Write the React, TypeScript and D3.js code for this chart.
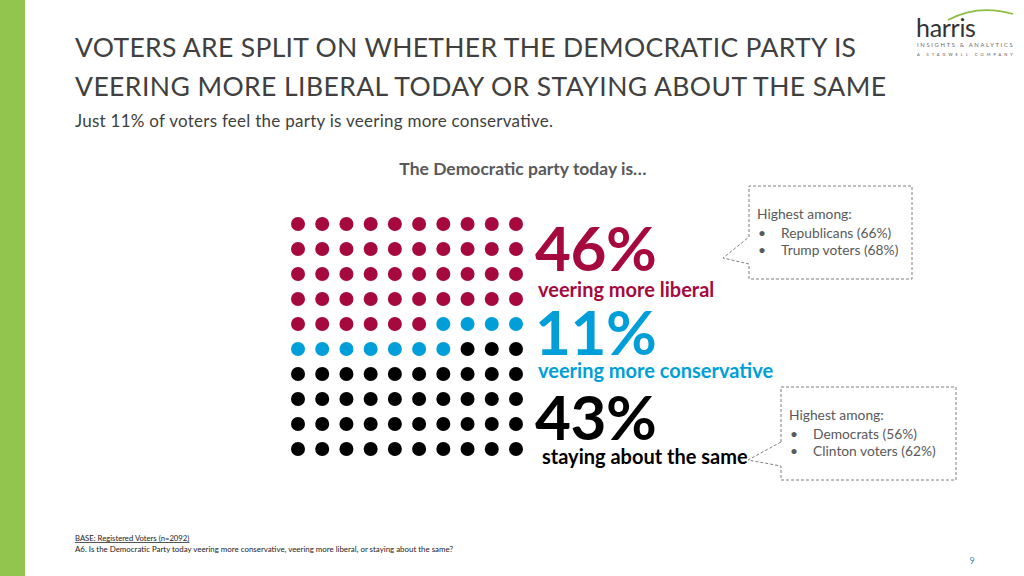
import React from 'react';
import * as d3 from 'd3';

// share of voters per answer, in the order the dots are filled
const categories = ['veering more liberal', 'veering more conservative', 'staying about the same'];
const shares = [46, 11, 43];
const colors = ['#A6093D', '#009FDA', '#000000'];
const gridCols = d3.range(10);
const gridRows = d3.range(10);

const calloutA = ['Republicans (66%)', 'Trump voters (68%)'];
const calloutB = ['Democrats (56%)', 'Clinton voters (62%)'];

const FONT = 'Lato, "Open Sans", sans-serif';

const App: React.FC = () => {
  const x = d3.scalePoint<number>().domain(gridCols).range([298, 516]);
  const y = d3.scalePoint<number>().domain(gridRows).range([224, 449]);

  // expand shares into a per-dot category index
  const dotCat: number[] = [];
  shares.forEach((s, i) => {
    for (let k = 0; k < s; k++) dotCat.push(i);
  });

  const dots = dotCat.map((c, i) => ({
    cx: x(i % 10)!,
    cy: y(Math.floor(i / 10))!,
    fill: colors[c],
  }));

  const labels = [
    { pctY: 271, labelY: 297, labelX: 538 },
    { pctY: 355, labelY: 378, labelX: 538 },
    { pctY: 440, labelY: 464, labelX: 542 },
  ];

  const callout = (
    bx: number, by: number, bw: number, bh: number,
    tip: [number, number], y1: number, y2: number,
    items: string[]
  ) => (
    <g>
      <path
        d={`M${bx},${y1} L${bx},${by} L${bx + bw},${by} L${bx + bw},${by + bh} L${bx},${by + bh} L${bx},${y2} L${tip[0]},${tip[1]} Z`}
        fill="#fff"
        stroke="#7f7f7f"
        strokeWidth={1}
        strokeDasharray="3,2"
      />
      <text x={bx + 8} y={by + 33} fontSize={13.8} fill="#595959">Highest among:</text>
      {items.map((t, i) => (
        <g key={t}>
          <text x={bx + 9} y={by + 52 + i * 17} fontSize={13.8} fill="#595959">•</text>
          <text x={bx + 32} y={by + 52 + i * 17} fontSize={13.8} fill="#595959">{t}</text>
        </g>
      ))}
    </g>
  );

  return (
    <svg
      width={1024}
      height={576}
      style={{ position: 'fixed', left: 0, top: 0, background: '#fff' }}
      fontFamily={FONT}
    >
      <rect x={0} y={0} width={25} height={576} fill="#92C54E" />

      {/* logo */}
      <path d="M948,20 Q978,4 1013,14" fill="none" stroke="#8DBE45" strokeWidth={1.6} />
      <text x={916} y={37} fontSize={25} fill="#333" letterSpacing={-0.3}>harris</text>
      <text x={917} y={47} fontSize={5.8} fill="#666" letterSpacing={1.7}>INSIGHTS &amp; ANALYTICS</text>
      <text x={917} y={55.5} fontSize={4} fill="#555" letterSpacing={3}>A STAGWELL COMPANY</text>

      {/* title */}
      <text x={75} y={57} fontSize={26.5} fill="#404040" textLength={781} lengthAdjust="spacing">
        VOTERS ARE SPLIT ON WHETHER THE DEMOCRATIC PARTY IS
      </text>
      <text x={75} y={96} fontSize={26.5} fill="#404040" textLength={811} lengthAdjust="spacing">
        VEERING MORE LIBERAL TODAY OR STAYING ABOUT THE SAME
      </text>
      <text x={75} y={127} fontSize={17} fill="#404040" textLength={478} lengthAdjust="spacing">
        Just 11% of voters feel the party is veering more conservative.
      </text>

      <text x={523} y={175} fontSize={17.5} fill="#595959" fontWeight={700} textAnchor="middle">
        The Democratic party today is…
      </text>

      {/* dot grid */}
      {dots.map((d, i) => (
        <circle key={i} cx={d.cx} cy={d.cy} r={7} fill={d.fill} />
      ))}

      {/* percent labels */}
      {categories.map((c, i) => (
        <g key={c}>
          <text x={535} y={labels[i].pctY} fontSize={62} fontWeight={700} fill={colors[i]} letterSpacing={-0.5}>
            {shares[i]}%
          </text>
          <text x={labels[i].labelX} y={labels[i].labelY} fontSize={20} fontWeight={700} fill={colors[i]}>
            {c}
          </text>
        </g>
      ))}

      {callout(749, 186, 163, 93, [723, 258], 237, 264, calloutA)}
      {callout(781, 387, 175, 93, [748, 460], 442, 466, calloutB)}

      {/* footer */}
      <text x={75} y={541} fontSize={7.7} fill="#222" textDecoration="underline">
        BASE: Registered Voters (n=2092)
      </text>
      <text x={75} y={552} fontSize={7.9} fill="#222">
        A6. Is the Democratic Party today veering more conservative, veering more liberal, or staying about the same?
      </text>
      <text x={972} y={564} fontSize={9} fill="#3E8EBF" textAnchor="middle">9</text>
    </svg>
  );
};

export default App;
